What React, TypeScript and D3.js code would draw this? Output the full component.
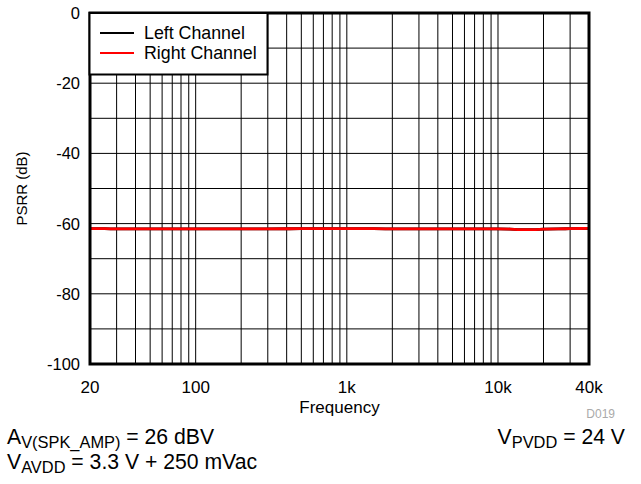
import React from "react";
import * as d3 from "d3";

const freqs = [20, 25, 30, 40, 50, 70, 100, 150, 200, 300, 500, 700, 1000, 1500, 2000, 3000, 5000, 7000, 10000, 12000, 14000, 17000, 20000, 25000, 30000, 35000, 40000];
const leftChannel = [-61.45, -61.45, -61.5, -61.5, -61.5, -61.5, -61.5, -61.5, -61.5, -61.5, -61.45, -61.45, -61.45, -61.45, -61.5, -61.5, -61.5, -61.5, -61.5, -61.55, -61.7, -61.7, -61.6, -61.5, -61.45, -61.4, -61.35];
const rightChannel = [-61.45, -61.45, -61.5, -61.5, -61.5, -61.5, -61.5, -61.5, -61.5, -61.5, -61.45, -61.45, -61.45, -61.45, -61.5, -61.5, -61.5, -61.5, -61.5, -61.55, -61.7, -61.7, -61.6, -61.5, -61.45, -61.4, -61.35];
const yTicks = [0, -20, -40, -60, -80, -100];
const yGrid = [0, -10, -20, -30, -40, -50, -60, -70, -80, -90, -100];
const xTickValues = [20, 100, 1000, 10000, 40000];
const xTickLabels = ["20", "100", "1k", "10k", "40k"];
const xGrid = [20, 30, 40, 50, 60, 70, 80, 90, 100, 200, 300, 400, 500, 600, 700, 800, 900, 1000, 2000, 3000, 4000, 5000, 6000, 7000, 8000, 9000, 10000, 20000, 30000, 40000];
const seriesNames = ["Left Channel", "Right Channel"];
const seriesColors = ["#000000", "#ff0000"];

const FONT = "Arial, 'Liberation Sans', Helvetica, sans-serif";

export default function App() {
  const left = 90, right = 589, top = 13, bottom = 364;
  const x = d3.scaleLog().domain([20, 40000]).range([left, right]);
  const y = d3.scaleLinear().domain([-100, 0]).range([bottom, top]);
  const line = d3
    .line<[number, number]>()
    .x((d) => x(d[0]))
    .y((d) => y(d[1]))
    .curve(d3.curveMonotoneX);
  const series = [leftChannel, rightChannel];

  return (
    <svg width={641} height={484} style={{ position: "absolute", left: 0, top: 0, background: "#fff" }} fontFamily={FONT}>
      <rect x={0} y={0} width={641} height={484} fill="#fff" />
      {xGrid.map((f) => (
        <line key={"xg" + f} x1={x(f)} x2={x(f)} y1={top} y2={bottom} stroke="#000" strokeWidth={1} />
      ))}
      {yGrid.map((v) => (
        <line key={"yg" + v} x1={left} x2={right} y1={y(v)} y2={y(v)} stroke="#000" strokeWidth={1} />
      ))}
      {series.map((s, i) => (
        <path
          key={"s" + i}
          d={line(freqs.map((f, j) => [f, s[j]] as [number, number])) || ""}
          fill="none"
          stroke={seriesColors[i]}
          strokeWidth={2.8}
        />
      ))}
      <rect x={left} y={top} width={right - left} height={bottom - top} fill="none" stroke="#000" strokeWidth={3} />
      {/* legend */}
      <rect x={89.5} y={13} width={178} height={61.5} fill="#fff" stroke="#000" strokeWidth={2} />
      {seriesNames.map((n, i) => (
        <g key={"lg" + i}>
          <line x1={100} x2={134} y1={33 + i * 20} y2={33 + i * 20} stroke={seriesColors[i]} strokeWidth={2} />
          <text x={144} y={39 + i * 20} fontSize={17.8} fill="#000">
            {n}
          </text>
        </g>
      ))}
      {yTicks.map((v) => (
        <text key={"yt" + v} x={80} y={y(v) + 6} textAnchor="end" fontSize={16.5} fill="#000">
          {v}
        </text>
      ))}
      {xTickValues.map((f, i) => (
        <text key={"xt" + f} x={x(f)} y={393} textAnchor="middle" fontSize={17} fill="#000">
          {xTickLabels[i]}
        </text>
      ))}
      <text x={(left + right) / 2} y={413} textAnchor="middle" fontSize={17} fill="#000">
        Frequency
      </text>
      <text transform={`translate(27,${(top + bottom) / 2}) rotate(-90)`} textAnchor="middle" fontSize={15} fill="#000">
        PSRR (dB)
      </text>
      <text x={615} y={418} textAnchor="end" fontSize={12} fill="#aaaaaa">
        D019
      </text>
      <text x={7} y={444} fontSize={21.2} fill="#000">
        A<tspan fontSize={16.4} dy={4}>V(SPK_AMP)</tspan>
        <tspan dy={-4}> = 26 dBV</tspan>
      </text>
      <text x={7} y={469} fontSize={21.2} fill="#000">
        V<tspan fontSize={16.4} dy={4}>AVDD</tspan>
        <tspan dy={-4}> = 3.3 V + 250 mVac</tspan>
      </text>
      <text x={625} y={444} textAnchor="end" fontSize={21.2} fill="#000">
        V<tspan fontSize={16.4} dy={4}>PVDD</tspan>
        <tspan dy={-4}> = 24 V</tspan>
      </text>
    </svg>
  );
}
